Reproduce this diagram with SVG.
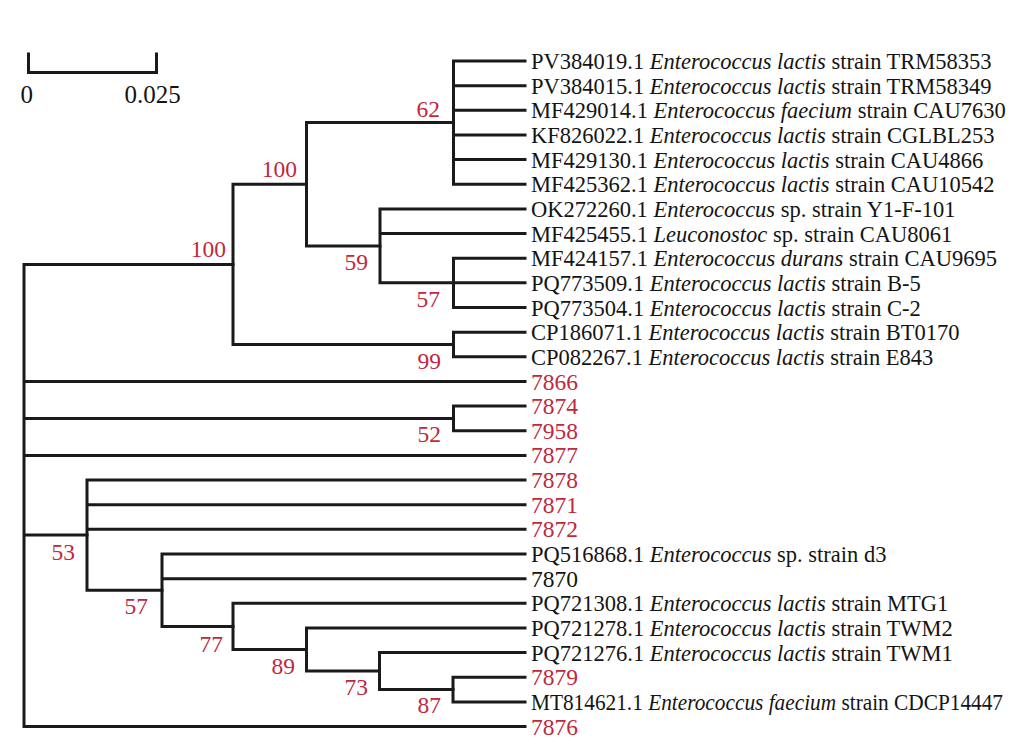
<svg xmlns="http://www.w3.org/2000/svg" width="1035" height="753" viewBox="0 0 1035 753">
<style>
.br{fill:none;stroke:#1a1a1a;stroke-width:3;stroke-linecap:square;stroke-linejoin:miter}
.lf{font-family:"Liberation Serif","Times New Roman",serif;font-size:22.5px;fill:#141414}
.num{font-family:"Liberation Serif","Times New Roman",serif;font-size:23.5px}
.red{fill:#c0283c}
.blk{fill:#141414}
.bs{font-family:"Liberation Serif","Times New Roman",serif;font-size:23.5px;fill:#c0283c;text-anchor:end}
.sc{font-family:"Liberation Serif","Times New Roman",serif;font-size:25px;fill:#141414}
.it{font-style:italic}
</style>
<rect width="1035" height="753" fill="#ffffff"/>
<g id="scale-bar">
<path class="br" d="M28.5 54 V72.5 H156.5 V54"/>
<text class="sc" x="20.5" y="103">0</text>
<text class="sc" x="124.5" y="103">0.025</text>
</g>
<g id="connectors">
<path class="br" d="M24 264.4 V726.55 M24 264.4 H233 M24 381.45 H525 M24 418.4 H453.5 M24 455.4 H525 M24 535.1 H87 M24 726.55 H525"/>
<path class="br" d="M233 184.25 V344.5 M233 184.25 H306.5 M233 344.5 H453.5"/>
<path class="br" d="M306.5 122.6 V245.9 H380 M306.5 122.6 H453.5"/>
<path class="br" d="M453.5 61 V184.25 M453.5 61 H525 M453.5 85.65 H525 M453.5 110.3 H525 M453.5 134.95 H525 M453.5 159.6 H525 M453.5 184.25 H525"/>
<path class="br" d="M380 208.9 V282.85 H453.5 M380 208.9 H525 M380 233.55 H525"/>
<path class="br" d="M453.5 258.2 V307.5 M453.5 258.2 H525 M453.5 282.85 H525 M453.5 307.5 H525"/>
<path class="br" d="M453.5 332.15 V356.8 M453.5 332.15 H525 M453.5 356.8 H525"/>
<path class="br" d="M453.5 406.1 V430.75 M453.5 406.1 H525 M453.5 430.75 H525"/>
<path class="br" d="M87 480.05 V590.2 H162 M87 480.05 H525 M87 504.7 H525 M87 529.35 H525"/>
<path class="br" d="M162 554 V626.4 H233 M162 554 H525 M162 578.65 H525"/>
<path class="br" d="M233 603.3 V649.5 H306.5 M233 603.3 H525"/>
<path class="br" d="M306.5 627.95 V671.1 H379.5 M306.5 627.95 H525"/>
<path class="br" d="M379.5 652.6 V689.6 H453 M379.5 652.6 H525"/>
<path class="br" d="M453 677.25 V701.9 M453 677.25 H525 M453 701.9 H525"/>
</g>
<g id="node-A"><text class="bs" x="226" y="257">100</text></g>
<g id="node-B"><text class="bs" x="297" y="177">100</text></g>
<g id="node-C"><text class="bs" x="440" y="116.5">62</text></g>
<g id="node-D"><text class="bs" x="368" y="270">59</text></g>
<g id="node-E"><text class="bs" x="440" y="306.5">57</text></g>
<g id="node-F"><text class="bs" x="441" y="368.5">99</text></g>
<g id="node-G"><text class="bs" x="441" y="442">52</text></g>
<g id="node-H"><text class="bs" x="75" y="560">53</text></g>
<g id="node-I"><text class="bs" x="148" y="614">57</text></g>
<g id="node-J"><text class="bs" x="223" y="651.5">77</text></g>
<g id="node-K"><text class="bs" x="295" y="674">89</text></g>
<g id="node-L"><text class="bs" x="368" y="695">73</text></g>
<g id="node-M"><text class="bs" x="441" y="713">87</text></g>
<g id="leaf-PV384019"><text class="lf" x="531" y="69">PV384019.1 <tspan class="it">Enterococcus lactis</tspan> strain TRM58353</text></g>
<g id="leaf-PV384015"><text class="lf" x="531" y="93.6">PV384015.1 <tspan class="it">Enterococcus lactis</tspan> strain TRM58349</text></g>
<g id="leaf-MF429014"><text class="lf" x="531" y="118.3">MF429014.1 <tspan class="it">Enterococcus faecium</tspan> strain CAU7630</text></g>
<g id="leaf-KF826022"><text class="lf" x="531" y="143">KF826022.1 <tspan class="it">Enterococcus lactis</tspan> strain CGLBL253</text></g>
<g id="leaf-MF429130"><text class="lf" x="531" y="167.6">MF429130.1 <tspan class="it">Enterococcus lactis</tspan> strain CAU4866</text></g>
<g id="leaf-MF425362"><text class="lf" x="531" y="192.3">MF425362.1 <tspan class="it">Enterococcus lactis</tspan> strain CAU10542</text></g>
<g id="leaf-OK272260"><text class="lf" x="531" y="216.9">OK272260.1 <tspan class="it">Enterococcus</tspan> sp. strain Y1-F-101</text></g>
<g id="leaf-MF425455"><text class="lf" x="531" y="241.6">MF425455.1 <tspan class="it">Leuconostoc</tspan> sp. strain CAU8061</text></g>
<g id="leaf-MF424157"><text class="lf" x="531" y="266.2">MF424157.1 <tspan class="it">Enterococcus durans</tspan> strain CAU9695</text></g>
<g id="leaf-PQ773509"><text class="lf" x="531" y="290.9">PQ773509.1 <tspan class="it">Enterococcus lactis</tspan> strain B-5</text></g>
<g id="leaf-PQ773504"><text class="lf" x="531" y="315.5">PQ773504.1 <tspan class="it">Enterococcus lactis</tspan> strain C-2</text></g>
<g id="leaf-CP186071"><text class="lf" x="531" y="340.2">CP186071.1 <tspan class="it">Enterococcus lactis</tspan> strain BT0170</text></g>
<g id="leaf-CP082267"><text class="lf" x="531" y="364.8">CP082267.1 <tspan class="it">Enterococcus lactis</tspan> strain E843</text></g>
<g id="leaf-7866"><text class="num red" x="531" y="389.5">7866</text></g>
<g id="leaf-7874"><text class="num red" x="531" y="414.1">7874</text></g>
<g id="leaf-7958"><text class="num red" x="531" y="438.8">7958</text></g>
<g id="leaf-7877"><text class="num red" x="531" y="463.4">7877</text></g>
<g id="leaf-7878"><text class="num red" x="531" y="488">7878</text></g>
<g id="leaf-7871"><text class="num red" x="531" y="512.7">7871</text></g>
<g id="leaf-7872"><text class="num red" x="531" y="537.4">7872</text></g>
<g id="leaf-PQ516868"><text class="lf" x="531" y="562">PQ516868.1 <tspan class="it">Enterococcus</tspan> sp. strain d3</text></g>
<g id="leaf-7870"><text class="num blk" x="531" y="586.7">7870</text></g>
<g id="leaf-PQ721308"><text class="lf" x="531" y="611.3">PQ721308.1 <tspan class="it">Enterococcus lactis</tspan> strain MTG1</text></g>
<g id="leaf-PQ721278"><text class="lf" x="531" y="636">PQ721278.1 <tspan class="it">Enterococcus lactis</tspan> strain TWM2</text></g>
<g id="leaf-PQ721276"><text class="lf" x="531" y="660.6">PQ721276.1 <tspan class="it">Enterococcus lactis</tspan> strain TWM1</text></g>
<g id="leaf-7879"><text class="num red" x="531" y="685.3">7879</text></g>
<g id="leaf-MT814621"><text class="lf" x="531" y="709.9" textLength="472" lengthAdjust="spacingAndGlyphs">MT814621.1 <tspan class="it">Enterococcus faecium</tspan> strain CDCP14447</text></g>
<g id="leaf-7876"><text class="num red" x="531" y="734.6">7876</text></g>
</svg>
